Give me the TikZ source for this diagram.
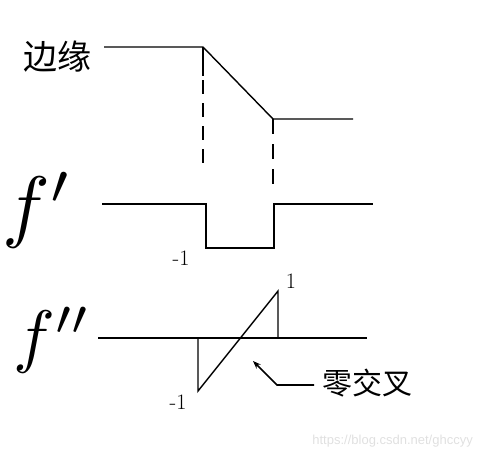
\documentclass[tikz,border=0pt]{standalone}
\usepackage{fontspec}
\newfontfamily\cjk{Noto Sans CJK SC}
\newfontfamily\wm{Liberation Sans}
\usetikzlibrary{arrows.meta}
\begin{document}
\begin{tikzpicture}[x=1pt,y=-1pt,
  curve/.style={line width=1.4pt,line join=miter},
  guide/.style={line width=1.8pt,dash pattern=on 14pt off 9pt},
  biglabel/.style={inner sep=0pt,anchor=center,transform shape},
  small/.style={inner sep=0pt,font=\fontsize{22}{24}\selectfont},
  pointer/.style={line width=1.6pt,-{Stealth[length=8pt,width=6pt]}}]
\useasboundingbox (0,0) rectangle (486,460);
% labels
\node[inner sep=0pt,font=\cjk\fontsize{34}{36}\selectfont] (edge) at (57,57) {边缘};
\node[biglabel,scale=8] (d1) at (38,210) {$f'$};
\node[biglabel,scale=7] (d2) at (52,340) {$f''$};
% edge profile
\coordinate (e0) at (104,47);
\coordinate (e1) at (203,47);
\coordinate (e2) at (273,119);
\coordinate (e3) at (353,119);
\draw[curve] (e0) -- (e1) -- (e2) -- (e3);
\coordinate (g1) at (203,168);
\coordinate (g2) at (273,185);
\draw[line width=1.4pt] (e1) -- (203,76);
\draw[guide] (203,80) -- (g1);
\draw[guide,dash pattern=on 15pt off 10pt] (e2) -- (g2);
% first derivative
\coordinate (a0) at (102,204);
\coordinate (a1) at (206,204);
\coordinate (a2) at (206,248);
\coordinate (a3) at (274,248);
\coordinate (a4) at (274,204);
\coordinate (a5) at (373,204);
\draw[curve] (a0) -- (a1) -- (a2) -- (a3) -- (a4) -- (a5);
\node[small] (m1) at (181,258) {-1};
% second derivative
\coordinate (b0) at (98,338);
\coordinate (b1) at (367,338);
\draw[curve] (b0) -- (b1);
\coordinate (p0) at (198,338);
\coordinate (p1) at (198,391);
\coordinate (p2) at (278,291);
\coordinate (p3) at (278,338);
\draw[curve] (p0) -- (p1) -- (p2) -- (p3);
\node[small] (one) at (291,281) {1};
\node[small] (m2) at (178,402) {-1};
% zero crossing
\node[inner sep=0pt,font=\cjk\fontsize{30}{32}\selectfont,anchor=west] (zc) at (322,383) {零交叉};
\coordinate (bend) at (277,385);
\coordinate (tip) at (253,361);
\draw[pointer] (zc.west) ++(-8,2) -- (bend) -- (tip);
% watermark
\node[inner sep=0pt,font=\wm\fontsize{13}{14}\selectfont,text=black!12,anchor=east] (wmk) at (473,441) {https://blog.csdn.net/ghccyy};
\end{tikzpicture}
\end{document}
